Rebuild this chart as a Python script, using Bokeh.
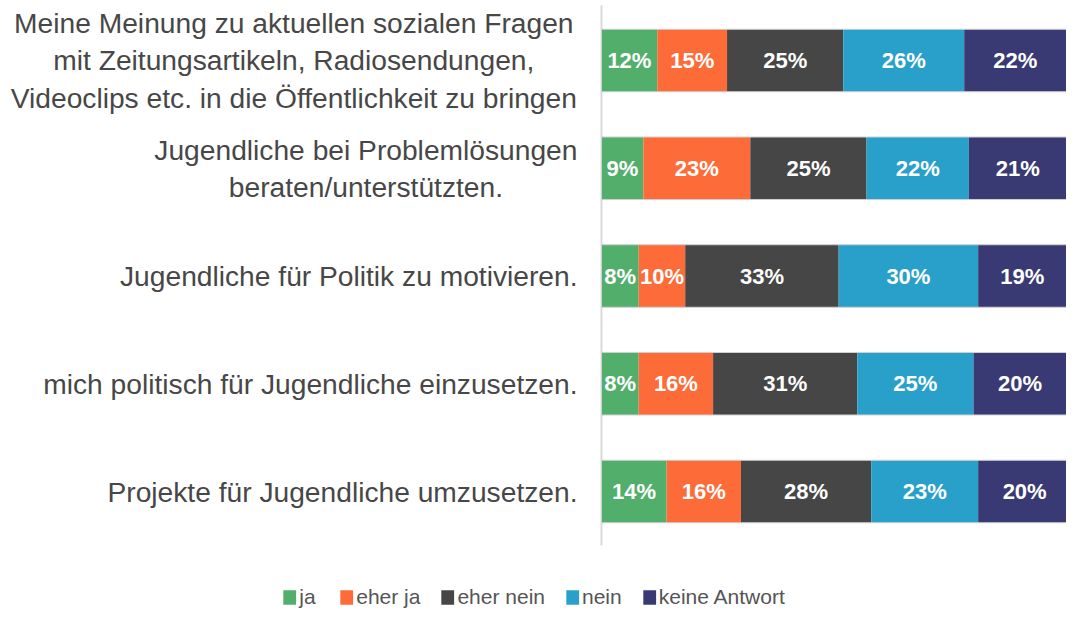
from bokeh.plotting import figure
from bokeh.models import ColumnDataSource, Range1d, Legend, LegendItem
from bokeh.core.properties import value
from bokeh.embed import file_html
from bokeh.resources import INLINE

# ---------------- data ----------------
categories = [
    "Meine Meinung zu aktuellen sozialen Fragen\nmit Zeitungsartikeln, Radiosendungen,\nVideoclips etc. in die Öffentlichkeit zu bringen",
    "Jugendliche bei Problemlösungen\nberaten/unterstützten.",
    "Jugendliche für Politik zu motivieren.",
    "mich politisch für Jugendliche einzusetzen.",
    "Projekte für Jugendliche umzusetzen.",
]
ja = [12, 9, 8, 8, 14]
eher_ja = [15, 23, 10, 16, 16]
eher_nein = [25, 25, 33, 31, 28]
nein = [26, 22, 30, 25, 23]
keine_antwort = [22, 21, 19, 20, 20]

series_names = ["ja", "eher ja", "eher nein", "nein", "keine Antwort"]
series_keys = ["ja", "eher_ja", "eher_nein", "nein", "keine_antwort"]
series_colors = ["#52AE6B", "#FD6B38", "#464646", "#28A0CA", "#393A73"]

# ---------------- layout constants ----------------
W, H = 1066, 609
BAR_X0 = 601          # pixel where 0 % sits
PX_X = (W - BAR_X0) / 100.0
ROW = 107.75          # pixels per row
x_end = 100
x_start = x_end - W / PX_X
y_top = -60 / ROW
y_bottom = y_top + H / ROW
FONT = "Liberation Sans"
LABEL_PX = 28.2

# Arial/Liberation Sans advance widths (per 1000 em)
_w = {" ": 278, "a": 556, "b": 556, "c": 500, "d": 556, "e": 556, "f": 278, "g": 556,
      "h": 556, "i": 222, "j": 222, "k": 500, "l": 222, "m": 833, "n": 556, "o": 556,
      "p": 556, "q": 556, "r": 333, "s": 500, "t": 278, "u": 556, "v": 500, "w": 722,
      "x": 500, "y": 500, "z": 500, "ä": 556, "ö": 556, "ü": 556, "A": 667, "B": 667,
      "C": 722, "D": 722, "E": 667, "F": 611, "G": 778, "H": 722, "I": 278, "J": 500,
      "K": 667, "L": 556, "M": 833, "N": 722, "O": 778, "Ö": 778, "P": 667, "R": 722,
      "S": 667, "T": 611, "U": 722, "V": 667, "W": 944, "Z": 611, ",": 278, ".": 278,
      "/": 278, "%": 889}


def text_width(s, px):
    return max(sum(_w.get(ch, 556) for ch in line) for line in s.split("\n")) * px / 1000.0


ys = list(range(len(categories)))
data = dict(y=ys, ja=ja, eher_ja=eher_ja, eher_nein=eher_nein, nein=nein,
            keine_antwort=keine_antwort)
src = ColumnDataSource(data)

p = figure(width=W, height=H, output_backend="svg", toolbar_location=None,
           x_range=Range1d(x_start, x_end), y_range=Range1d(y_bottom, y_top),
           x_axis_location=None, y_axis_location=None, min_border=0,
           outline_line_color=None)
p.xgrid.visible = False
p.ygrid.visible = False
p.background_fill_color = "white"

# vertical axis line
p.segment(x0=[0], y0=[y_top + 5 / ROW], x1=[0], y1=[y_top + 545 / ROW],
          line_color="#d9d9d9", line_width=2)

renderers = p.hbar_stack(series_keys, y="y", height=0.58, color=series_colors,
                         source=src, line_color=None)

# thin light outline around each full bar
totals = [sum(v) for v in zip(ja, eher_ja, eher_nein, nein, keine_antwort)]
p.hbar(y=ys, left=[0] * len(ys), right=totals, height=0.58, fill_color=None,
       line_color="#cfcfcf", line_width=1)

# percentage labels
lx, ly, lt = [], [], []
for i in ys:
    left = 0
    for arr in (ja, eher_ja, eher_nein, nein, keine_antwort):
        v = arr[i]
        lx.append(left + v / 2)
        ly.append(i)
        lt.append(f"{v}%")
        left += v
p.text(x=lx, y=ly, text=lt, text_color="white", text_font=value(FONT),
       text_font_style="bold", text_font_size="22px", text_align="center",
       text_baseline="middle")

# category labels (block right-aligned, lines centered)
cat_offsets, cat_align = [], []
for c in categories:
    if "\n" in c:
        cat_offsets.append(-24 - text_width(c, LABEL_PX) / 2)
        cat_align.append("center")
    else:
        cat_offsets.append(-24)
        cat_align.append("right")
cat_src = ColumnDataSource(dict(x=[0] * len(ys), y=ys, text=categories,
                                xo=cat_offsets, al=cat_align))
p.text(x="x", y="y", text="text", x_offset="xo", text_align="al", source=cat_src,
       text_color="#474747", text_font=value(FONT), text_font_size=f"{LABEL_PX}px",
       text_baseline="middle", text_line_height=1.16)

legend = Legend(items=[LegendItem(label=n, renderers=[r]) for n, r in zip(series_names, renderers)],
                orientation="horizontal", location="bottom_center",
                label_text_font=FONT, label_text_font_size="21px",
                label_text_color="#555555", glyph_width=16, glyph_height=18,
                label_height=18, spacing=19, label_standoff=2, padding=0, margin=0,
                border_line_color=None, background_fill_alpha=0)
p.add_layout(legend)

open("out.html", "w").write(file_html(p, INLINE))
